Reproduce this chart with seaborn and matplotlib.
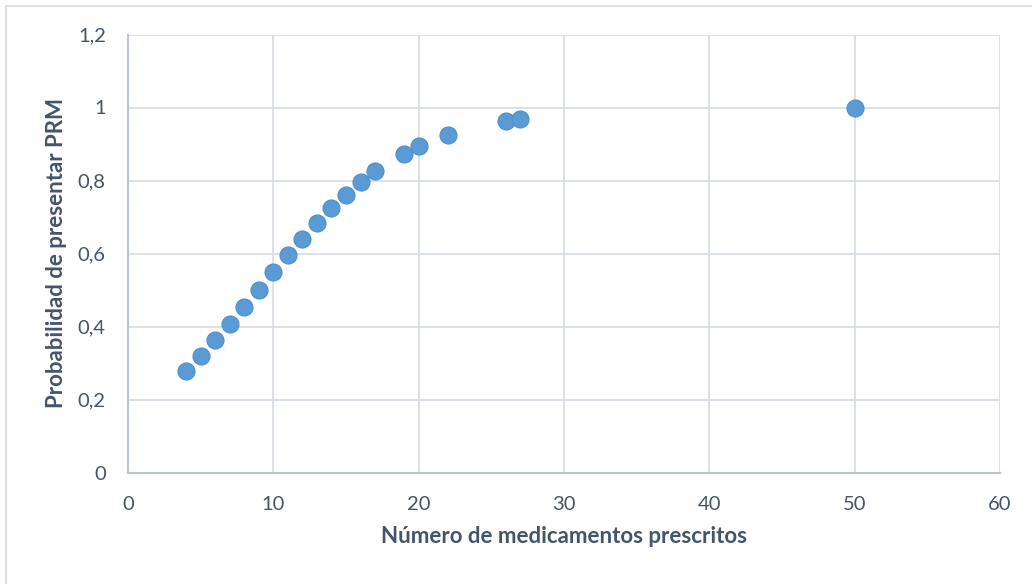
import matplotlib
matplotlib.use("Agg")
import matplotlib.pyplot as plt
from matplotlib.lines import Line2D
import seaborn as sns
import pandas as pd

# Number of prescribed drugs and estimated probability of a drug-related problem
medicamentos = [4, 5, 6, 7, 8, 9, 10, 11, 12, 13, 14, 15, 16, 17, 19, 20, 22, 26, 27, 50]
probabilidad = [0.277, 0.319, 0.362, 0.407, 0.454, 0.501, 0.549, 0.596, 0.641, 0.684,
                0.724, 0.760, 0.795, 0.825, 0.873, 0.894, 0.924, 0.963, 0.969, 1.0]

x_ticks = [0, 10, 20, 30, 40, 50, 60]
y_ticks = [0, 0.2, 0.4, 0.6, 0.8, 1.0, 1.2]
y_tick_labels = ["0", "0,2", "0,4", "0,6", "0,8", "1", "1,2"]

df = pd.DataFrame({"x": medicamentos, "y": probabilidad})

sns.set_theme(style="white")
plt.rcParams["font.family"] = ["Lato", "DejaVu Sans"]

text_color = "#44546a"
grid_color = "#d9dde5"
axis_color = "#bcc4d4"

fig = plt.figure(figsize=(10.32, 5.84), dpi=100)
ax = fig.add_axes([128 / 1032, 1 - 472.5 / 584, 872 / 1032, 438 / 584])

sns.scatterplot(data=df, x="x", y="y", ax=ax, s=150, color="#5b9bd5",
                edgecolor="#4f8fcc", linewidth=0.8, zorder=3, legend=False)

ax.set_xlim(0, 60)
ax.set_ylim(0, 1.2)
ax.set_xticks(x_ticks)
ax.set_xticklabels([str(t) for t in x_ticks])
ax.set_yticks(y_ticks)
ax.set_yticklabels(y_tick_labels)

ax.grid(True, color=grid_color, linewidth=1.3, zorder=0)
ax.set_axisbelow(True)
for side in ["top", "right"]:
    ax.spines[side].set_visible(False)
for side in ["left", "bottom"]:
    ax.spines[side].set_color(axis_color)
    ax.spines[side].set_linewidth(1.5)

ax.tick_params(axis="both", length=0, labelsize=14.5, labelcolor=text_color)
ax.tick_params(axis="x", pad=17)
ax.tick_params(axis="y", pad=16)

ax.set_xlabel("Número de medicamentos prescritos", fontsize=16,
              fontweight="bold", color=text_color, labelpad=9)
ax.set_ylabel("Probabilidad de presentar PRM", fontsize=16,
              fontweight="bold", color=text_color, labelpad=8)

# Chart-area frame: left and top edges
fig.add_artist(Line2D([5.5 / 1032, 5.5 / 1032], [0, 1 - 5.5 / 584],
                      transform=fig.transFigure, color="#d9dde5", linewidth=1.3))
fig.add_artist(Line2D([5.5 / 1032, 1], [1 - 5.5 / 584, 1 - 5.5 / 584],
                      transform=fig.transFigure, color="#d9dde5", linewidth=1.3))

fig.savefig("out.png", dpi=100, facecolor="white")
